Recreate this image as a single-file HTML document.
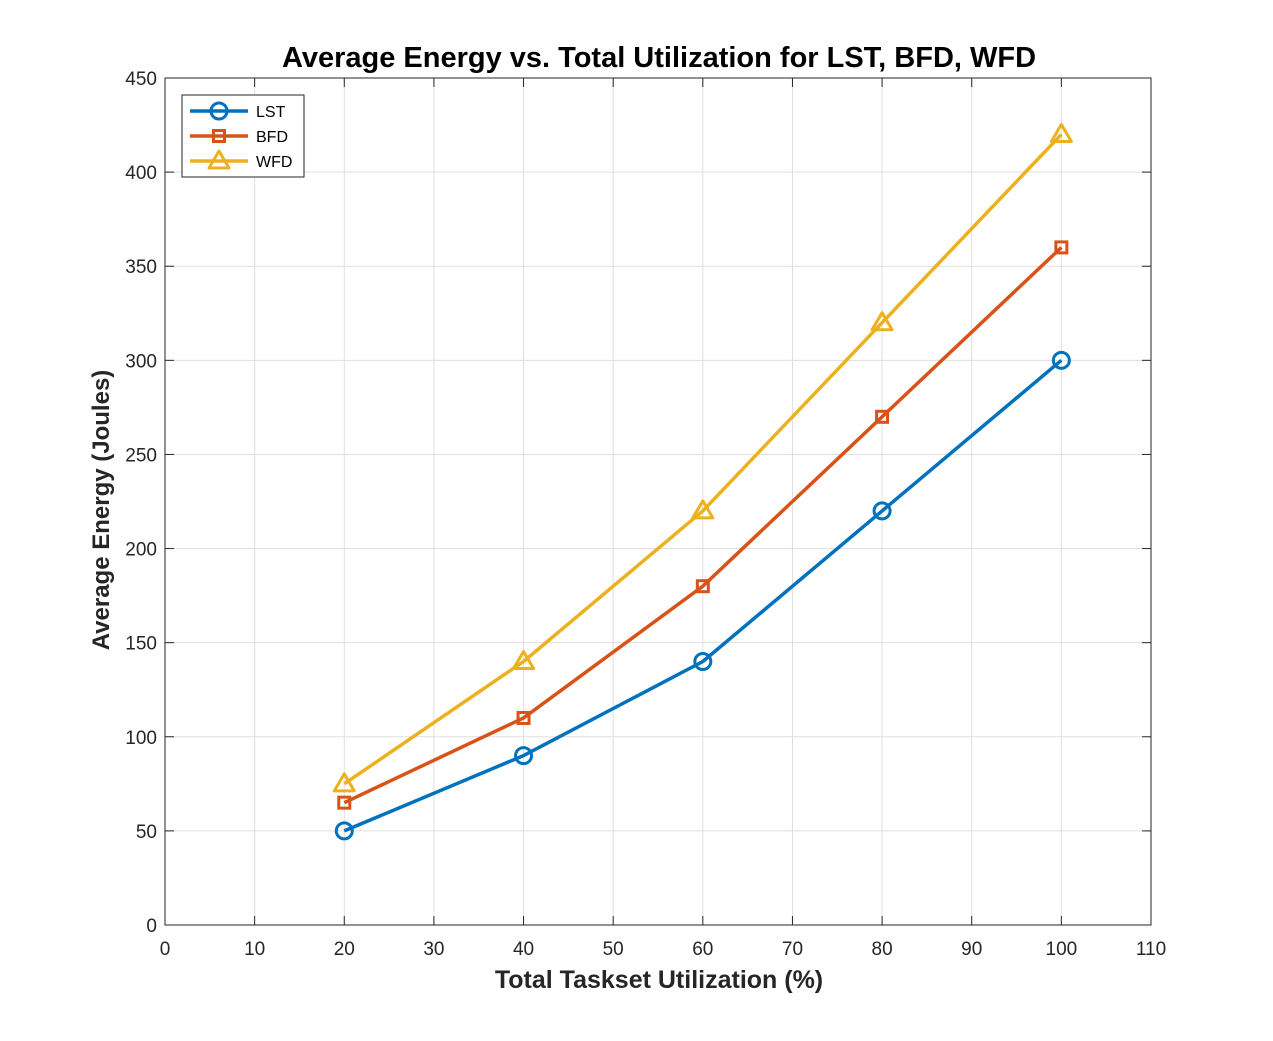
<!DOCTYPE html>
<html><head><meta charset="utf-8"><style>
html,body{margin:0;padding:0;background:#fff;}
svg{display:block;font-family:"Liberation Sans",Arial,sans-serif;}
</style></head><body>
<svg id="chart" width="1273" height="1041" viewBox="0 0 1273 1041">
<rect width="1273" height="1041" fill="#fff"/>
<rect x="165" y="78" width="986" height="847" fill="#fff"/>
<g id="grid"></g>
<g id="ticks"></g>
<rect x="165" y="78" width="986" height="847" fill="none" stroke="#262626" stroke-width="1"/>
<g id="series"></g>
<text x="659" y="67" text-anchor="middle" font-size="29" font-weight="bold" fill="#000">Average Energy vs. Total Utilization for LST, BFD, WFD</text>
<text x="659" y="988" text-anchor="middle" font-size="25" font-weight="bold" fill="#262626">Total Taskset Utilization (%)</text>
<text transform="translate(109,510) rotate(-90)" text-anchor="middle" font-size="24" font-weight="bold" fill="#262626">Average Energy (Joules)</text>
<g id="legend"></g>
</svg>
<script>
const xValues = [20, 40, 60, 80, 100];
const lstValues = [50, 90, 140, 220, 300];
const bfdValues = [65, 110, 180, 270, 360];
const wfdValues = [75, 140, 220, 320, 420];
const seriesNames = ["LST", "BFD", "WFD"];
const xTicks = [0,10,20,30,40,50,60,70,80,90,100,110];
const yTicks = [0,50,100,150,200,250,300,350,400,450];

const NS = "http://www.w3.org/2000/svg";
const L = 165, R = 1151, T = 78, B = 925;
const xS = v => L + (v - 0) / 110 * (R - L);
const yS = v => B - (v - 0) / 450 * (B - T);
function mk(tag, attrs, parent) {
  const e = document.createElementNS(NS, tag);
  for (const k in attrs) e.setAttribute(k, attrs[k]);
  parent.appendChild(e);
  return e;
}
const grid = document.getElementById('grid');
const ticks = document.getElementById('ticks');
xTicks.forEach(v => {
  const x = xS(v);
  if (v > 0 && v < 110) {
    const g = mk('line', {x1:x, x2:x, y1:T, y2:B, stroke:'#dfdfdf', 'stroke-width':1}, grid);
    
    
  }
  mk('line', {x1:x, x2:x, y1:B, y2:B-9, stroke:'#262626'}, ticks);
  mk('line', {x1:x, x2:x, y1:T, y2:T+9, stroke:'#262626'}, ticks);
  const t = mk('text', {x:x, y:955, 'text-anchor':'middle', 'font-size':19, fill:'#262626'}, ticks);
  t.textContent = v;
  
  
});
yTicks.forEach(v => {
  const y = yS(v);
  if (v > 0 && v < 450) {
    const g = mk('line', {x1:L, x2:R, y1:y, y2:y, stroke:'#dfdfdf', 'stroke-width':1}, grid);
    
    
  }
  mk('line', {x1:L, x2:L+9, y1:y, y2:y, stroke:'#262626'}, ticks);
  mk('line', {x1:R, x2:R-9, y1:y, y2:y, stroke:'#262626'}, ticks);
  const t = mk('text', {x:L-8, y:y+7, 'text-anchor':'end', 'font-size':19, fill:'#262626'}, ticks);
  t.textContent = v;
  
  
});
const colors = ['#0072BD', '#D95319', '#EDB120'];
const markers = ['circle', 'square', 'triangle'];
function marker(type, x, y, color, parent) {
  let m;
  if (type === 'circle') m = mk('circle', {cx:x, cy:y, r:8, fill:'none', stroke:color, 'stroke-width':3}, parent);
  else if (type === 'square') m = mk('rect', {x:x-5.5, y:y-5.5, width:11, height:11, fill:'none', stroke:color, 'stroke-width':3}, parent);
  else m = mk('polygon', {points:`${x},${y-10} ${x-10},${y+7} ${x+10},${y+7}`, fill:'none', stroke:color, 'stroke-width':3, 'stroke-linejoin':'round'}, parent);
  return m;
}
const allSeries = [lstValues, bfdValues, wfdValues];
const sg = document.getElementById('series');
allSeries.forEach((vals, i) => {
  const g = mk('g', {}, sg);
  
  
  const pts = vals.map((v, j) => xS(xValues[j]) + ',' + yS(v)).join(' ');
  const pl = mk('polyline', {points:pts, fill:'none', stroke:colors[i], 'stroke-width':3.5, 'stroke-linejoin':'round'}, g);
  
  
  vals.forEach((v, j) => {
    const m = marker(markers[i], xS(xValues[j]), yS(v), colors[i], g);
    
    
  });
});
const lg = document.getElementById('legend');
const box = mk('rect', {x:182, y:95, width:122, height:82, fill:'#fff', stroke:'#262626', 'stroke-width':1}, lg);


seriesNames.forEach((n, i) => {
  const y = 111 + i * 25;
  const e = mk('g', {}, lg);
  
  
  mk('line', {x1:190, x2:248, y1:y, y2:y, stroke:colors[i], 'stroke-width':3.5}, e);
  marker(markers[i], 219, y, colors[i], e);
  const t = mk('text', {x:256, y:y+6, 'font-size':16, fill:'#000'}, e);
  t.textContent = n;
});
</script>
</body></html>
